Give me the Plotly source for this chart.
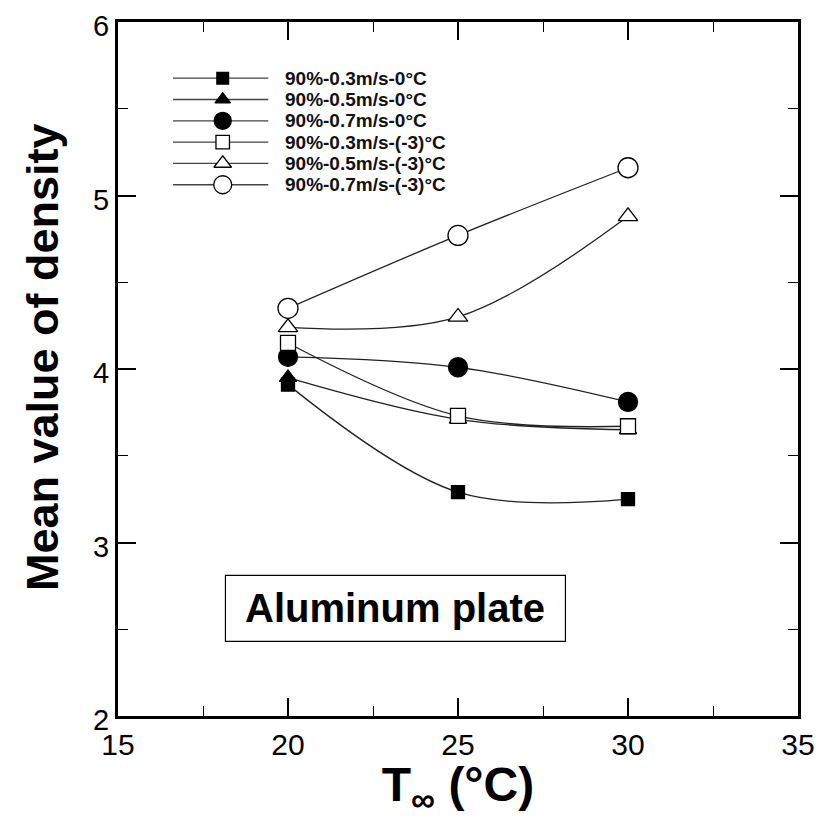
import plotly.graph_objects as go

# ---- data ----
temps = [20, 25, 30]
series_names = [
    "90%-0.3m/s-0°C",
    "90%-0.5m/s-0°C",
    "90%-0.7m/s-0°C",
    "90%-0.3m/s-(-3)°C",
    "90%-0.5m/s-(-3)°C",
    "90%-0.7m/s-(-3)°C",
]
sq_filled = [3.91, 3.29, 3.25]
tri_filled = [3.95, 3.71, 3.65]
circ_filled = [4.07, 4.01, 3.81]
sq_open = [4.15, 3.73, 3.67]
tri_open = [4.24, 4.30, 4.88]
circ_open = [4.35, 4.77, 5.16]
series_values = [sq_filled, tri_filled, circ_filled, sq_open, tri_open, circ_open]

x_ticks = [15, 20, 25, 30, 35]
y_ticks = [2, 3, 4, 5, 6]

# ---- styles ----
symbols = ["square", "triangle-up", "circle", "square", "triangle-up", "circle"]
fills = ["black", "black", "black", "white", "white", "white"]
sizes = [13, 15, 19, 15, 17, 20]
FONT = "Liberation Sans, Arial, sans-serif"

fig = go.Figure()

for name, vals, sym, fc, sz in zip(series_names, series_values, symbols, fills, sizes):
    fig.add_trace(go.Scatter(
        x=temps, y=vals, name=name, mode="lines+markers",
        line=dict(color="#222222", width=1.3, shape="spline", smoothing=1.0),
        marker=dict(symbol=sym, size=sz, color=fc, line=dict(color="black", width=1.3)),
        showlegend=False, cliponaxis=False,
    ))

# ---- custom legend on an overlay axis (0..1 of the plot area) ----
leg_x0, leg_x1, leg_xm, leg_xt = 0.081, 0.221, 0.154, 0.243
leg_top, leg_step = 0.919, 0.0307
for i, (name, sym, fc, sz) in enumerate(zip(series_names, symbols, fills, sizes)):
    yy = leg_top - i * leg_step
    fig.add_trace(go.Scatter(
        x=[leg_x0, leg_x1], y=[yy, yy], mode="lines", xaxis="x2", yaxis="y2",
        line=dict(color="#444444", width=1.3), showlegend=False, hoverinfo="skip"))
    fig.add_trace(go.Scatter(
        x=[leg_xm], y=[yy], mode="markers", xaxis="x2", yaxis="y2",
        marker=dict(symbol=sym, size=sz * 0.9, color=fc, line=dict(color="black", width=1.3)),
        showlegend=False, hoverinfo="skip"))
    fig.add_annotation(x=leg_xt, y=yy, xref="x2", yref="y2", text="<b>" + name + "</b>",
                       showarrow=False, xanchor="left", yanchor="middle",
                       font=dict(family=FONT, size=19, color="#111111"))

# ---- Aluminum plate box ----
fig.add_shape(type="rect", x0=18.16, x1=28.16, y0=2.43, y1=2.81, xref="x", yref="y",
              line=dict(color="black", width=1.2), fillcolor="white", layer="above")
fig.add_annotation(x=23.16, y=2.62, xref="x", yref="y", text="<b>Aluminum plate</b>",
                   showarrow=False, font=dict(family=FONT, size=40, color="black"))

# ---- y-axis title (placed as rotated text) ----
fig.add_annotation(x=-0.112, y=0.517, xref="paper", yref="paper", textangle=-90,
                   text="<b>Mean value of density</b>", showarrow=False,
                   xanchor="center", yanchor="middle",
                   font=dict(family=FONT, size=45, color="black"))

axis_common = dict(
    showline=True, linecolor="black", linewidth=3, mirror="ticks",
    ticks="inside", ticklen=18, tickwidth=1.5, tickcolor="black",
    showgrid=False, zeroline=False, automargin=False, ticklabeloverflow="allow",
)

fig.update_layout(
    width=814, height=810,
    margin=dict(l=110, r=24, t=14, b=102),
    plot_bgcolor="white", paper_bgcolor="white",
    xaxis=dict(range=[15, 35], tickvals=x_ticks,
               tickfont=dict(family=FONT, size=30, color="black"),
               minor=dict(dtick=2.5, ticks="inside", ticklen=10, tickcolor="black", tickwidth=1.2),
               title=dict(text="<b>T<sub>∞</sub> (°C)</b>", font=dict(family=FONT, size=48, color="black"),
                          standoff=2),
               **axis_common),
    yaxis=dict(range=[2, 6], tickvals=y_ticks,
               tickfont=dict(family=FONT, size=29, color="black"), ticklabelshift=4,
               minor=dict(dtick=0.5, ticks="inside", ticklen=10, tickcolor="black", tickwidth=1.2),
               **axis_common),
    xaxis2=dict(domain=[0, 1], range=[0, 1], overlaying="x", anchor="y2", visible=False, fixedrange=True),
    yaxis2=dict(domain=[0, 1], range=[0, 1], overlaying="y", anchor="x2", visible=False, fixedrange=True),
    showlegend=False,
)

fig.write_html("out.html")
